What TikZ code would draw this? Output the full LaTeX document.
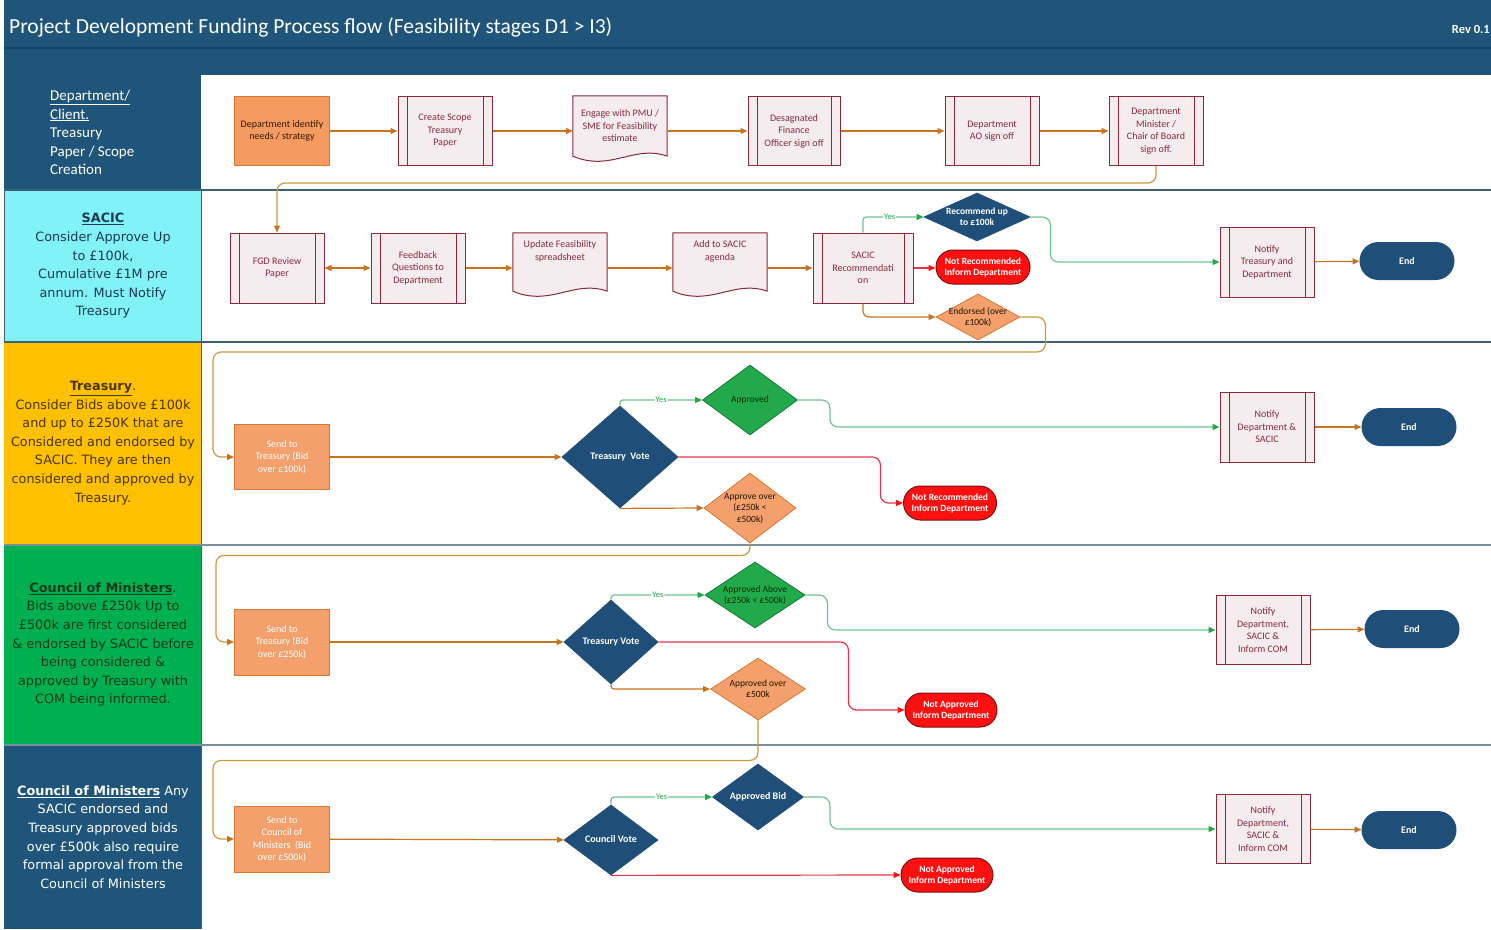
\documentclass[tikz,border=0pt]{standalone}
\usepackage{fontspec}
\setmainfont{Carlito}
\newfontfamily\lanefnt{DejaVu Sans}
\usetikzlibrary{shapes.geometric,shapes.misc,arrows.meta,calc}
\pgfdeclarelayer{docs}
\pgfsetlayers{docs,main}
\definecolor{hdr}{HTML}{1F557A}
\definecolor{hdrline}{HTML}{174766}
\definecolor{navy}{HTML}{1F4E79}
\definecolor{orfill}{HTML}{F4A06C}
\definecolor{orfillb}{HTML}{F59A60}
\definecolor{orbord}{HTML}{D9762F}
\definecolor{pfill}{HTML}{F4ECEE}
\definecolor{pbord}{HTML}{8B2A3A}
\definecolor{gfill}{HTML}{22A94B}
\definecolor{gbord}{HTML}{117A35}
\definecolor{rfill}{HTML}{FF1010}
\definecolor{rbord}{HTML}{7A1010}
\definecolor{arrc}{HTML}{C8741E}
\definecolor{loopc}{HTML}{C99A3C}
\definecolor{gline}{HTML}{6CC58E}
\definecolor{gtip}{HTML}{1FAA4A}
\definecolor{rline}{HTML}{E8344A}
\definecolor{cyanl}{HTML}{80F2F8}
\definecolor{goldl}{HTML}{FFC000}
\definecolor{greenl}{HTML}{00B050}
\definecolor{laneline}{HTML}{3F5F75}
\definecolor{sacictxt}{HTML}{1E3A4C}
\definecolor{goldtxt}{HTML}{4A3800}
\definecolor{greentxt}{HTML}{0E3B1E}
\newcommand{\boxfnt}{\fontsize{10}{12.5}\selectfont}
\newcommand{\lanefntsz}{\lanefnt\fontsize{12.8}{18.6}\selectfont}
% text that does not enlarge its shape
\newcommand{\ovl}[1]{\makebox[0pt]{\smash{\raisebox{-0.3em}{\begin{tabular}{@{}c@{}}#1\end{tabular}}}}}
\tikzset{
  proc/.style={rectangle, draw=pbord, fill=pfill, line width=1pt, minimum width=94pt, minimum height=70pt,
    inner sep=1pt, align=center, font=\boxfnt, text=pbord,
    path picture={\draw[pbord, line width=1pt]
      ([xshift=9pt]path picture bounding box.north west) -- ([xshift=9pt]path picture bounding box.south west)
      ([xshift=-9pt]path picture bounding box.north east) -- ([xshift=-9pt]path picture bounding box.south east);}},
  docu/.style={rectangle, minimum width=94pt, minimum height=60pt, inner sep=1pt, align=center, font=\boxfnt, text=pbord},
  docshape/.style={draw=pbord, fill=pfill, line width=1pt},
  orbox/.style={rectangle, draw=orbord, fill=orfill, line width=0.8pt, minimum width=95pt, minimum height=66pt,
    inner sep=1pt, align=center, font=\boxfnt, text=white},
  dia/.style={diamond, inner sep=0pt, font=\fontsize{9.5}{11.5}\selectfont, line width=0.8pt},
  ndia/.style={dia, fill=navy, draw=navy, text=white},
  gdia/.style={dia, fill=gfill, draw=gbord, text=black!80!green},
  odia/.style={dia, fill=orfill, draw=orbord, text=black!85!orange},
  stad/.style={rounded rectangle, minimum width=94pt, minimum height=35pt, inner sep=0pt,
    font=\fontsize{9.5}{11}\selectfont\bfseries, text=white, line width=1pt},
  redstad/.style={stad, fill=rfill, draw=rbord},
  endstad/.style={stad, fill=navy, draw=navy, minimum height=37pt, font=\fontsize{10}{12}\selectfont\bfseries},
  arr/.style={draw=arrc, line width=1.2pt, -{Triangle[length=7pt,width=6pt]}},
  looparr/.style={draw=loopc, line width=1.2pt, rounded corners=8pt, -{Triangle[length=7pt,width=6pt,color=arrc]}},
  garr/.style={draw=gline, line width=1.2pt, rounded corners=3pt, -{Triangle[length=7pt,width=6pt,color=gtip]}},
  garr2/.style={garr, rounded corners=8pt},
  rarr/.style={draw=rline, line width=1.2pt, rounded corners=8pt, -{Triangle[length=7pt,width=6pt,color=rfill]}},
  yeslbl/.style={fill=white, inner sep=1pt, text=gtip, font=\fontsize{8.5}{10}\selectfont},
  lanetxt/.style={align=center, font=\lanefntsz},
}
\begin{document}
\begin{tikzpicture}[x=1pt, y=-1pt]
\useasboundingbox (0,0) rectangle (1491,929);
% header and lanes
\fill[hdr] (4,0) rectangle (1491,75);
\draw[hdrline, line width=1.5pt] (4,48) -- (1491,48);
\node[anchor=west, text=white, inner sep=0pt, font=\fontsize{21.5}{25}\selectfont] (title) at (9,27)
  {Project Development Funding Process flow (Feasibility stages D1 > I3)};
\node[anchor=east, text=white, inner sep=0pt, font=\fontsize{12.5}{14}\selectfont\bfseries] (rev) at (1490,29) {Rev 0.1};
\fill[hdr] (4,75) rectangle (201,190);
\fill[cyanl] (4,190) rectangle (201,342);
\fill[goldl] (4,342) rectangle (201,545);
\fill[greenl] (4,545) rectangle (201,745);
\fill[hdr] (4,745) rectangle (201,929);
\draw[laneline, line width=1pt] (4,190) rectangle (201,342);
\draw[laneline, line width=0.6pt] (201,342) -- (201,929);
\draw[laneline, line width=2pt] (4,190) -- (1491,190);
\draw[laneline, line width=2pt] (4,342) -- (1491,342);
\draw[laneline!70, line width=1.5pt] (4,545) -- (1491,545);
\draw[laneline!70, line width=1.5pt] (4,745) -- (1491,745);

% lane labels
\node[anchor=west, align=left, text=white, inner sep=0pt, font=\fontsize{15}{18.6}\selectfont] (L1) at (50,132.5)
  {\underline{Department/}\\\underline{Client.}\\Treasury\\Paper / Scope\\Creation};
\node[lanetxt, text=sacictxt] (L2) at (103,266)
  {\textbf{\underline{SACIC}}\\Consider Approve Up\\to £100k,\\Cumulative £1M pre\\annum. Must Notify\\Treasury};
\node[lanetxt, text=goldtxt] (L3) at (103,443)
  {\textbf{\underline{Treasury}}.\\Consider Bids above £100k\\and up to £250K that are\\Considered and endorsed by\\SACIC. They are then\\considered and approved by\\Treasury.};
\node[lanetxt, text=greentxt] (L4) at (103,644.5)
  {\textbf{\underline{Council of Ministers}}.\\Bids above £250k Up to\\£500k are first considered\\\& endorsed by SACIC before\\being considered \&\\approved by Treasury with\\COM being informed.};
\node[lanetxt, text=white] (L5) at (103,837)
  {\textbf{\underline{Council of Ministers}} Any\\SACIC endorsed and\\Treasury approved bids\\over £500k also require\\formal approval from the\\Council of Ministers};

% row 1
\node[orbox, fill=orfillb, text=black!80!orange, minimum height=69pt] (n1) at (282,131) {Department identify\\needs / strategy};
\node[proc, minimum height=69pt] (n2) at (445,131) {Create Scope\\Treasury\\Paper};
\node[docu, minimum height=60pt] (n3) at (620,126) {Engage with PMU /\\SME for Feasibility\\estimate};
\node[proc, minimum width=92pt, minimum height=69pt] (n4) at (794,131) {Desagnated\\Finance\\Officer sign off};
\node[proc, minimum height=69pt] (n5) at (992,131) {Department\\AO sign off};
\node[proc, minimum height=69pt] (n6) at (1156,131) {Department\\Minister /\\Chair of Board\\sign off.};

% row 2 SACIC
\node[proc] (s1) at (277,268) {FGD Review\\Paper};
\node[proc] (s2) at (418,268) {Feedback\\Questions to\\Department};
\node[docu, minimum height=58pt] (s3) at (560,262) {Update Feasibility\\spreadsheet\\[10pt]};
\node[docu, minimum height=58pt] (s4) at (720,262) {Add to SACIC\\agenda\\[10pt]};
\node[proc, minimum width=100pt] (s5) at (863,268) {SACIC\\Recommendati\\on};
\node[ndia, minimum width=106pt, minimum height=48pt, font=\fontsize{9.5}{11.5}\selectfont\bfseries] (d1) at (977,217) {\ovl{Recommend up\\to £100k}};
\node[redstad, minimum height=34pt] (r1) at (983,267) {\ovl{Not Recommended\\Inform Department}};
\node[odia, minimum width=84pt, minimum height=46pt] (d2) at (978,317) {\ovl{Endorsed (over\\£100k)}};
\node[proc] (s6) at (1267,262) {Notify\\Treasury and\\Department};
\node[endstad] (e1) at (1407,261) {End};

% Treasury lane
\node[orbox, minimum height=65pt] (t1) at (282,457) {Send to\\Treasury (Bid\\over £100k)};
\node[ndia, minimum width=116pt, minimum height=102pt, font=\fontsize{10}{12}\selectfont\bfseries] (t2) at (620,457) {\ovl{Treasury\ \ Vote}};
\node[gdia, minimum width=95pt, minimum height=70pt] (t3) at (750,400) {\ovl{Approved}};
\node[odia, minimum width=92pt, minimum height=70pt] (t4) at (750,508) {\ovl{Approve over\\(£250k <\\£500k)}};
\node[proc] (t5) at (1267,427) {Notify\\Department \&\\SACIC};
\node[endstad] (t6) at (1409,427) {End};
\node[redstad, minimum width=93pt, minimum height=34pt] (t7) at (950,503) {\ovl{Not Recommended\\Inform Department}};

% Council lane
\node[orbox] (c1) at (282,642) {Send to\\Treasury (Bid\\over £250k)};
\node[ndia, minimum width=94pt, minimum height=84pt, font=\fontsize{10}{12}\selectfont\bfseries] (c2) at (611,642) {\ovl{Treasury Vote}};
\node[gdia, minimum width=100pt, minimum height=66pt] (c3) at (755,595) {\ovl{Approved Above\\(£250k < £500k)}};
\node[odia, minimum width=95pt, minimum height=62pt] (c4) at (758,689) {\ovl{Approved over\\£500k}};
\node[proc, minimum height=69pt] (c5) at (1263,630) {Notify\\Department,\\SACIC \&\\Inform COM};
\node[endstad] (c6) at (1412,629) {End};
\node[redstad, minimum width=92pt, minimum height=34pt] (c7) at (951,710) {\ovl{Not Approved\\Inform Department}};

% Council of Ministers lane
\node[orbox] (m1) at (282,839) {Send to\\Council of\\Ministers\ \ (Bid\\over £500k)};
\node[ndia, minimum width=94pt, minimum height=70pt, font=\fontsize{10}{12}\selectfont\bfseries] (m2) at (611,840) {\ovl{Council Vote}};
\node[ndia, minimum width=91pt, minimum height=66pt, font=\fontsize{10}{12}\selectfont\bfseries] (m3) at (758,797) {\ovl{Approved Bid}};
\node[proc, minimum height=69pt] (m4) at (1263,829) {Notify\\Department,\\SACIC \&\\Inform COM};
\node[endstad] (m5) at (1409,830) {End};
\node[redstad, minimum width=92pt, minimum height=34pt] (m6) at (947,875) {\ovl{Not Approved\\Inform Department}};

% document shapes
\begin{pgfonlayer}{docs}
\foreach \n in {n3,s3,s4}{
  \path[docshape] (\n.south west) -- (\n.north west) -- (\n.north east) -- (\n.south east)
    .. controls ($(\n.south east)+(-33,-12)$) and ($(\n.south west)+(38,16)$) .. (\n.south west) -- cycle;
}
\end{pgfonlayer}

% connectors row 1
\draw[arr] (n1) -- (n2);
\draw[arr] (n2.east) -- (n2.east -| n3.west);
\draw[arr] (n3.east |- n4.west) -- (n4.west);
\draw[arr] (n4) -- (n5);
\draw[arr] (n5) -- (n6);
\draw[looparr] (n6.south) -- ++(0,17) -| (s1.north);

% connectors SACIC
\draw[draw=arrc, line width=1.2pt, {Triangle[length=7pt,width=6pt]}-{Triangle[length=7pt,width=6pt]}] (s1) -- (s2);
\draw[arr] (s2.east) -- (s2.east -| s3.west);
\draw[arr] (s3.east |- s2.east) -- (s2.east -| s4.west);
\draw[arr] (s4.east |- s5.west) -- (s5.west);
\draw[garr] (s5.north) |- node[yeslbl, pos=0.72] {Yes} (d1.west);
\draw[rarr] (s5.east) -- (s5.east -| r1.west);
\draw[arr, rounded corners=6pt] (s5.south) |- (d2.west);
\draw[garr2] (d1.east) -- ++(20,0) |- (s6.west);
\draw[arr] (s6) -- (e1);
\draw[looparr] (d2.east) -- ++(25,0) |- (213,352) |- (t1.west);

% connectors Treasury
\draw[arr] (t1) -- (t2);
\draw[garr] (t2.north) |- node[yeslbl, pos=0.75] {Yes} (t3.west);
\draw[garr2] (t3.east) -- ++(32,0) |- (t5.west);
\draw[arr] (t5) -- (t6);
\draw[rarr] (t2.east) -- ++(202,0) |- (t7.west);
\draw[arr] (t2.south) -- (t4.west);
\draw[looparr] (t4.south) -- ++(0,12) -| (216,600) |- (c1.west);

% connectors Council
\draw[arr] (c1) -- (c2);
\draw[garr] (c2.north) |- node[yeslbl, pos=0.75] {Yes} (c3.west);
\draw[garr2] (c3.east) -- ++(22,0) |- (c5.west);
\draw[arr] (c5) -- (c6);
\draw[rarr] (c2.east) -- ++(190,0) |- (c7.west);
\draw[arr, rounded corners=3pt] (c2.south) |- (c4.west);
\draw[looparr] (c4.south) -- ++(0,40) -| (213,800) |- (m1.west);

% connectors Council of Ministers
\draw[arr] (m1) -- (m2);
\draw[garr] (m2.north) |- node[yeslbl, pos=0.75] {Yes} (m3.west);
\draw[garr2] (m3.east) -- ++(26,0) |- (m4.west);
\draw[arr] (m4) -- (m5);
\draw[rarr, rounded corners=0pt] (m2.south) -- (m6.west);
\end{tikzpicture}
\end{document}
